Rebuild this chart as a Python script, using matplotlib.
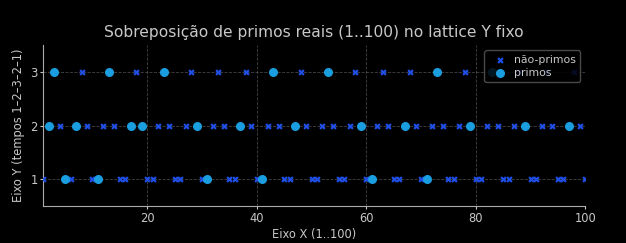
import matplotlib
matplotlib.use("Agg")
import matplotlib.pyplot as plt

# lattice values: Y for each x = 1..100 (tempos 1-2-3-2-1)
x_vals = list(range(1, 101))
y_vals = [1, 2, 3, 2, 1, 1, 2, 3, 2, 1,
          1, 2, 3, 2, 1, 1, 2, 3, 2, 1,
          1, 2, 3, 2, 1, 1, 2, 3, 2, 1,
          1, 2, 3, 2, 1, 1, 2, 3, 2, 1,
          1, 2, 3, 2, 1, 1, 2, 3, 2, 1,
          1, 2, 3, 2, 1, 1, 2, 3, 2, 1,
          1, 2, 3, 2, 1, 1, 2, 3, 2, 1,
          1, 2, 3, 2, 1, 1, 2, 3, 2, 1,
          1, 2, 3, 2, 1, 1, 2, 3, 2, 1,
          1, 2, 3, 2, 1, 1, 2, 3, 2, 1]
primes = [2, 3, 5, 7, 11, 13, 17, 19, 23, 29, 31, 37, 41, 43, 47,
          53, 59, 61, 67, 71, 73, 79, 83, 89, 97]

fg = "#c8c8c8"
plt.rcParams["font.family"] = "DejaVu Sans"

fig = plt.figure(figsize=(6.26, 2.43), dpi=100, facecolor="black")
ax = fig.add_axes([0.069, 0.152, 0.866, 0.663])
ax.set_facecolor("black")

npx = [x for x in x_vals if x not in primes]
npy = [y_vals[x - 1] for x in npx]
px = primes
py = [y_vals[x - 1] for x in primes]

ax.scatter(npx, npy, marker="x", s=12, color="#1f4fe8", linewidths=1.6,
           label="não-primos", zorder=3)
ax.scatter(px, py, marker="o", s=30, color="#1a9ee0", label="primos", zorder=4)

ax.set_xlim(1, 100)
ax.set_ylim(0.5, 3.5)
ax.set_yticks([1, 2, 3])
ax.set_xticks([20, 40, 60, 80, 100])
ax.grid(True, linestyle="--", color="#555555", linewidth=0.6, alpha=0.8)
ax.set_axisbelow(True)

for s in ["top", "right"]:
    ax.spines[s].set_visible(False)
for s in ["left", "bottom"]:
    ax.spines[s].set_color("#aaaaaa")
ax.tick_params(colors=fg, labelsize=8.3, length=2.5, pad=1.5)

ax.set_title("Sobreposição de primos reais (1..100) no lattice Y fixo",
             color=fg, fontsize=11.2)
ax.set_xlabel("Eixo X (1..100)", color=fg, fontsize=8.3, labelpad=2.5)
ax.set_ylabel("Eixo Y (tempos 1–2–3–2–1)", color=fg, fontsize=8.3, labelpad=4)

leg = ax.legend(loc="upper right", fontsize=7.8, facecolor="black",
                edgecolor="#555555", labelcolor=fg, framealpha=0.85,
                handletextpad=0.3, borderpad=0.4, labelspacing=0.3)

fig.savefig("out.png", dpi=100, facecolor="black")
